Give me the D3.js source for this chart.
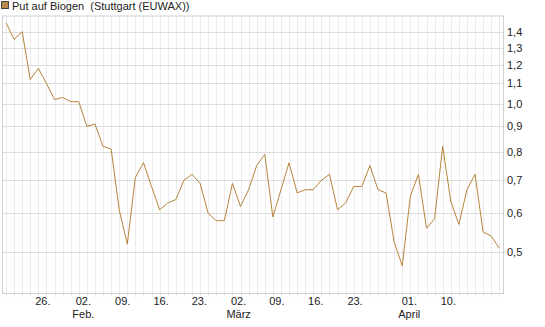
<!DOCTYPE html>
<html>
<head>
<meta charset="utf-8">
<script src="https://cdn.jsdelivr.net/npm/d3@7"></script>
<style>
  body { margin: 0; background: #fff; }
  svg { display: block; font-family: "Liberation Sans", Arial, sans-serif; }
</style>
</head>
<body>
<svg id="chart" width="545" height="327"></svg>
<script>
// ==================== DATA ====================
const seriesName = 'Put auf Biogen  (Stuttgart (EUWAX))';

// one value per trading day (62 points)
const prices = [
  1.46, 1.35, 1.40, 1.12, 1.18, 1.10, 1.02, 1.03, 1.01, 1.01,
  0.90, 0.91, 0.82, 0.81, 0.61, 0.52, 0.71, 0.76, 0.68, 0.61,
  0.63, 0.64, 0.70, 0.72, 0.69, 0.60, 0.58, 0.58, 0.69, 0.62,
  0.67, 0.75, 0.79, 0.59, 0.67, 0.76, 0.66, 0.67, 0.67, 0.70,
  0.72, 0.61, 0.63, 0.68, 0.68, 0.75, 0.67, 0.66, 0.525, 0.47,
  0.65, 0.72, 0.56, 0.585, 0.82, 0.635, 0.57, 0.67, 0.72, 0.55,
  0.54, 0.51
];

// x axis labels, placed at (fractional) point index
const dayLabels = ['26.', '02.', '09.', '16.', '23.', '02.', '09.', '16.', '23.', '01.', '10.'];
const dayLabelPos = [4.55, 9.56, 14.43, 19.17, 23.9, 28.77, 33.5, 38.3, 43.16, 49.87, 54.7];
const monthLabels = ['Feb.', 'März', 'April'];
const monthLabelPos = [9.56, 28.77, 49.87];

const yTicks = [0.5, 0.6, 0.7, 0.8, 0.9, 1.0, 1.1, 1.2, 1.3, 1.4];

// ==================== CHART ====================
const lineColor = '#b5853b';
const frameColor = '#d0d0d0';
const gridColor = '#ececec';
const textColor = '#222';

const plot = { left: 2.5, right: 503.5, top: 16, bottom: 293.5 };

const svg = d3.select('#chart');

const x = d3.scaleLinear().domain([0, prices.length - 1]).range([6, 499.3]);
const y = d3.scaleLog().domain([0.413, 1.506]).range([plot.bottom, plot.top]);

const fmt = (v) => d3.format('.1f')(v).replace('.', ',');

// grid
const grid = svg.append('g');
grid.selectAll('line.vgrid')
  .data(d3.range(prices.length))
  .join('line')
  .attr('class', 'vgrid')
  .attr('x1', (d) => Math.round(x(d)) + 0.5)
  .attr('x2', (d) => Math.round(x(d)) + 0.5)
  .attr('y1', plot.top)
  .attr('y2', plot.bottom + 3)
  .attr('stroke', gridColor)
  .attr('stroke-width', 1);

grid.selectAll('line.hgrid')
  .data(yTicks)
  .join('line')
  .attr('class', 'hgrid')
  .attr('x1', plot.left)
  .attr('x2', plot.right)
  .attr('y1', (d) => Math.round(y(d)) + 0.5)
  .attr('y2', (d) => Math.round(y(d)) + 0.5)
  .attr('stroke', '#dcdcdc')
  .attr('stroke-width', 1);

// frame
svg.append('rect')
  .attr('x', plot.left)
  .attr('y', plot.top)
  .attr('width', plot.right - plot.left)
  .attr('height', plot.bottom - plot.top)
  .attr('fill', 'none')
  .attr('stroke', frameColor)
  .attr('stroke-width', 1);

// price line
const line = d3.line()
  .x((d, i) => x(i))
  .y((d) => y(d));

svg.append('path')
  .datum(prices)
  .attr('d', line)
  .attr('fill', 'none')
  .attr('stroke', lineColor)
  .attr('stroke-width', 1)
  .attr('stroke-linejoin', 'round');

// y labels (right side)
svg.append('g')
  .selectAll('text')
  .data(yTicks)
  .join('text')
  .attr('x', 507)
  .attr('y', (d) => y(d))
  .attr('dominant-baseline', 'central')
  .attr('font-size', '11px')
  .attr('fill', textColor)
  .text((d) => fmt(d));

// x labels
svg.append('g')
  .selectAll('text')
  .data(dayLabels)
  .join('text')
  .attr('x', (d, i) => x(dayLabelPos[i]))
  .attr('y', 305)
  .attr('text-anchor', 'middle')
  .attr('font-size', '11px')
  .attr('fill', textColor)
  .text((d) => d);

svg.append('g')
  .selectAll('text')
  .data(monthLabels)
  .join('text')
  .attr('x', (d, i) => x(monthLabelPos[i]))
  .attr('y', 318)
  .attr('text-anchor', 'middle')
  .attr('font-size', '11px')
  .attr('fill', textColor)
  .text((d) => d);

// legend
svg.append('rect')
  .attr('x', 1.5)
  .attr('y', 1.5)
  .attr('width', 7)
  .attr('height', 7)
  .attr('fill', '#b8894a')
  .attr('stroke', '#444')
  .attr('stroke-width', 1);

svg.append('text')
  .attr('x', 12)
  .attr('y', 6)
  .attr('dominant-baseline', 'central')
  .attr('font-size', '11px')
  .attr('fill', textColor)
  .style('white-space', 'pre')
  .text(seriesName);
</script>
</body>
</html>
